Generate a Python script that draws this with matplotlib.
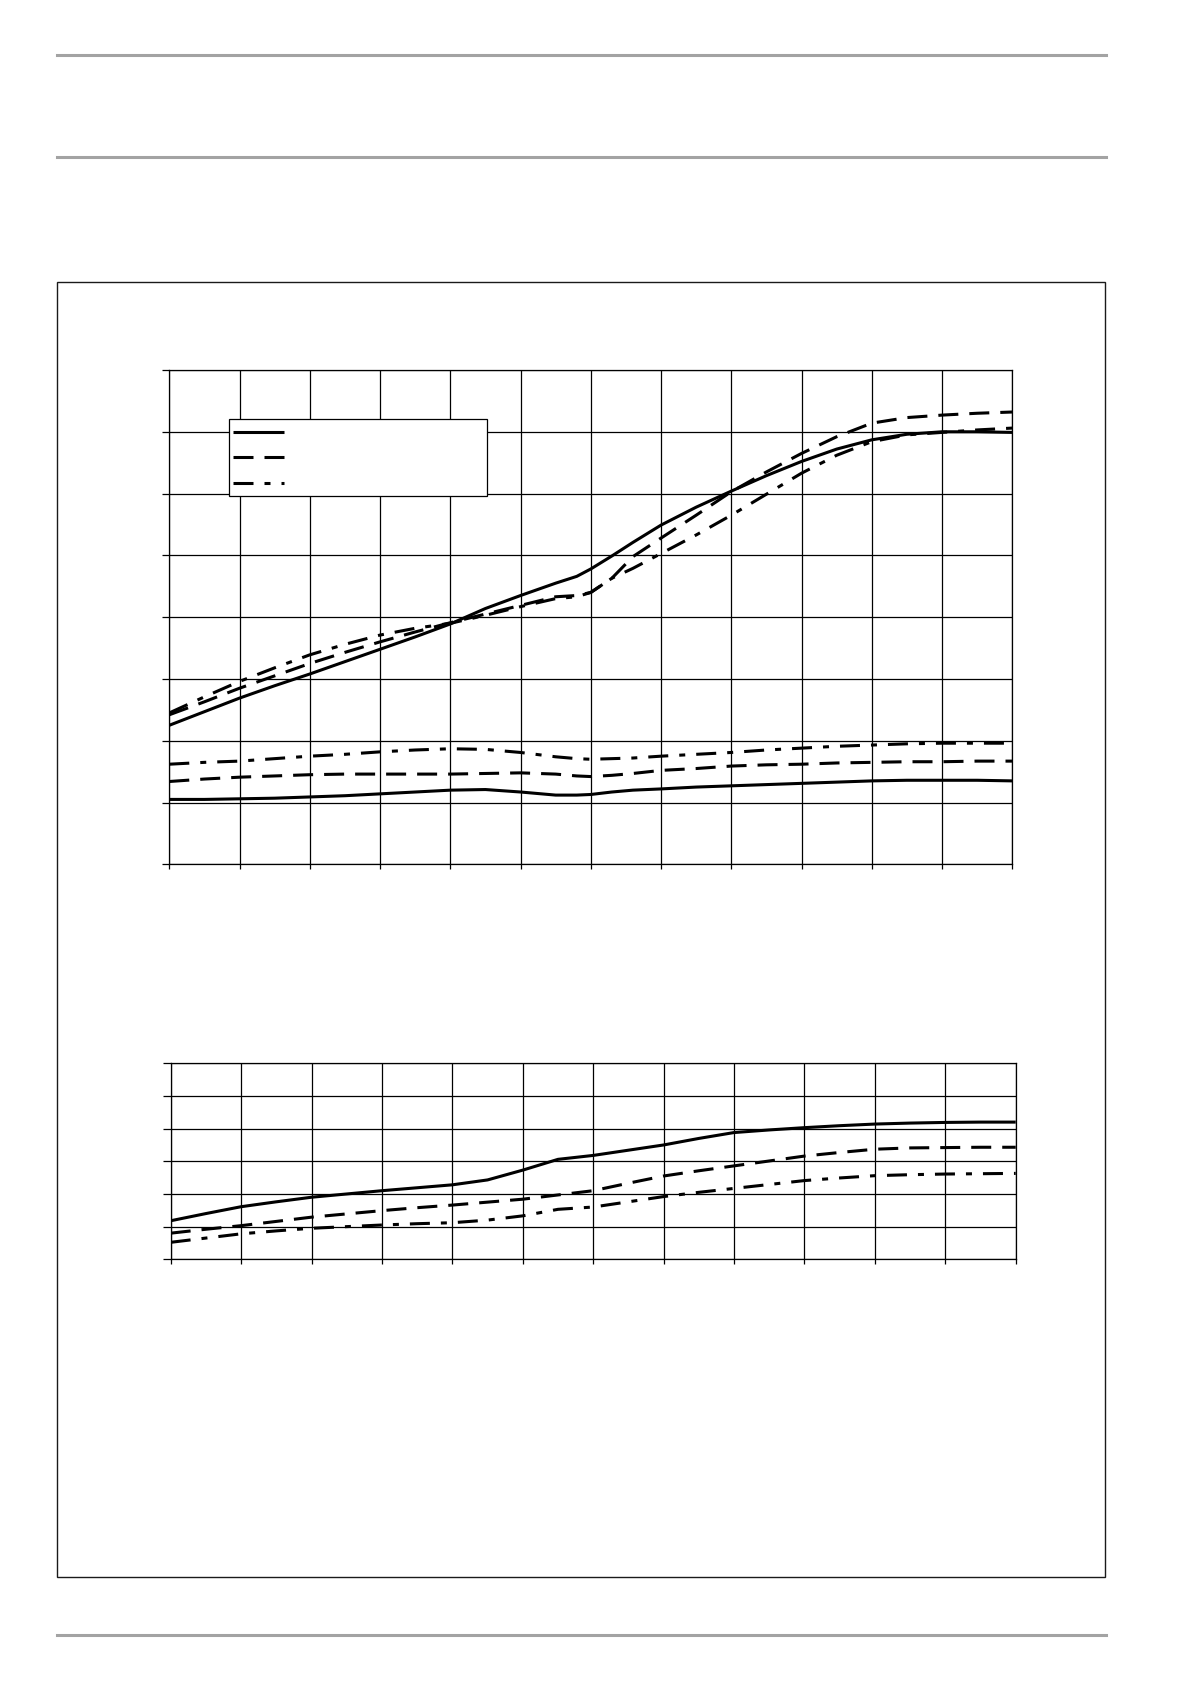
import matplotlib
matplotlib.use("Agg")
import matplotlib.pyplot as plt
from matplotlib.lines import Line2D
from matplotlib.patches import Rectangle

plt.rcParams['lines.scale_dashes'] = False

# ---------------- data (grid units, labels absent in source) ----------------
top_x = [0, 0.5, 1, 1.5, 2, 2.5, 3, 3.5, 4, 4.5, 5, 5.5, 5.8, 6, 6.3, 6.6,
         7, 7.5, 8, 8.5, 9, 9.5, 10, 10.5, 11, 11.5, 12]
top_solid_upper = [2.25, 2.47, 2.69, 2.89, 3.08, 3.28, 3.48, 3.68, 3.89, 4.14,
                   4.35, 4.55, 4.66, 4.78, 4.99, 5.21, 5.49, 5.78, 6.04, 6.29,
                   6.52, 6.72, 6.87, 6.96, 7.00, 7.00, 6.99]
top_dashed_upper = [2.42, 2.63, 2.85, 3.05, 3.25, 3.43, 3.60, 3.76, 3.91, 4.05,
                    4.19, 4.33, 4.35, 4.40, 4.63, 4.98, 5.28, 5.65, 6.03, 6.35,
                    6.65, 6.92, 7.14, 7.23, 7.27, 7.30, 7.32]
top_dashdot_upper = [2.45, 2.71, 2.96, 3.18, 3.39, 3.56, 3.71, 3.82, 3.90, 4.03,
                     4.17, 4.30, 4.33, 4.40, 4.63, 4.79, 5.03, 5.33, 5.65, 5.99,
                     6.33, 6.62, 6.84, 6.95, 6.99, 7.03, 7.06]
top_dashdot_lower = [1.62, 1.65, 1.67, 1.71, 1.75, 1.78, 1.82, 1.85, 1.87, 1.86,
                     1.81, 1.74, 1.71, 1.70, 1.71, 1.72, 1.75, 1.78, 1.81, 1.85,
                     1.88, 1.91, 1.93, 1.95, 1.96, 1.96, 1.96]
top_dashed_lower = [1.34, 1.38, 1.41, 1.43, 1.45, 1.46, 1.46, 1.46, 1.46, 1.47,
                    1.48, 1.46, 1.43, 1.42, 1.44, 1.47, 1.52, 1.55, 1.59, 1.61,
                    1.62, 1.64, 1.65, 1.66, 1.66, 1.67, 1.67]
top_solid_lower = [1.05, 1.05, 1.06, 1.07, 1.09, 1.11, 1.14, 1.17, 1.20, 1.21,
                   1.17, 1.12, 1.12, 1.13, 1.17, 1.20, 1.22, 1.25, 1.27, 1.29,
                   1.31, 1.33, 1.35, 1.36, 1.36, 1.36, 1.35]

bot_x = [0, 0.5, 1, 1.5, 2, 2.5, 3, 3.5, 4, 4.5, 5, 5.5, 6, 6.5, 7, 7.5, 8,
         8.5, 9, 9.5, 10, 10.5, 11, 11.5, 12]
bot_solid = [1.18, 1.40, 1.61, 1.76, 1.90, 2.00, 2.10, 2.19, 2.28, 2.43, 2.73,
             3.06, 3.18, 3.34, 3.50, 3.70, 3.88, 3.96, 4.03, 4.09, 4.14, 4.17,
             4.19, 4.20, 4.20]
bot_dashed = [0.80, 0.92, 1.03, 1.16, 1.29, 1.39, 1.49, 1.58, 1.66, 1.75, 1.84,
              1.97, 2.10, 2.33, 2.55, 2.71, 2.86, 3.01, 3.16, 3.27, 3.37, 3.41,
              3.42, 3.43, 3.43]
bot_dashdot = [0.52, 0.65, 0.78, 0.87, 0.95, 1.00, 1.05, 1.09, 1.12, 1.20, 1.33,
               1.53, 1.60, 1.76, 1.92, 2.05, 2.17, 2.29, 2.41, 2.49, 2.56, 2.59,
               2.61, 2.62, 2.63]

top_xticks = list(range(13))
top_yticks = list(range(9))
bot_xticks = list(range(13))
bot_yticks = list(range(7))

# ---------------- styles ----------------
PX = 72 / 100.0
LW = 2.2
SOLID = '-'
DASHED = (0, (20 * PX, 11 * PX))
DASHDOT = (0, (20 * PX, 11 * PX, 6 * PX, 11 * PX))

fig = plt.figure(figsize=(11.91, 16.84), dpi=100)
W, H = 1191.0, 1684.0

PAGE_L, PAGE_R = 57.5, 1106.0
gray = '#a3a3a3'
for yp in (55.3, 157.3, 1634.8):
    fig.add_artist(Line2D([PAGE_L / W, PAGE_R / W], [1 - yp / H, 1 - yp / H],
                          color=gray, lw=2.2, transform=fig.transFigure))
fig.add_artist(Rectangle((PAGE_L / W, 1 - 1576.5 / H), (PAGE_R - 0.7 - PAGE_L) / W,
                         (1576.5 - 281.5) / H, fill=False, edgecolor='#1a1a1a',
                         lw=1.0, transform=fig.transFigure))


def style_axes(ax, xt, yt, ylen, xlen):
    ax.set_xlim(xt[0], xt[-1])
    ax.set_ylim(yt[0], yt[-1])
    ax.set_xticks(xt)
    ax.set_yticks(yt)
    ax.grid(True, color='black', lw=0.9)
    ax.set_axisbelow(True)
    ax.tick_params(labelleft=False, labelbottom=False, direction='out',
                   width=0.9, color='black')
    ax.tick_params(axis='y', length=ylen)
    ax.tick_params(axis='x', length=xlen)
    for s in ax.spines.values():
        s.set_linewidth(0.9)
        s.set_color('black')


# ---------------- top chart ----------------
ax1 = fig.add_axes([169.3 / W, 1 - 864.3 / H, (1012.3 - 169.3) / W,
                    (864.3 - 370) / H])
style_axes(ax1, top_xticks, top_yticks, 4.8, 3.6)
for ys, ls in ((top_solid_upper, SOLID), (top_dashed_upper, DASHED),
               (top_dashdot_upper, DASHDOT), (top_dashdot_lower, DASHDOT),
               (top_dashed_lower, DASHED), (top_solid_lower, SOLID)):
    ax1.plot(top_x, ys, color='black', lw=LW, linestyle=ls,
             solid_capstyle='butt', dash_capstyle='butt')

# legend box (labels absent in source)
axw, axh = 1012.3 - 169.3, 864.3 - 370
lx0 = (229.3 - 169.3) / axw
lx1 = (487.3 - 169.3) / axw
ly0 = (864.3 - 496) / axh
ly1 = (864.3 - 419.3) / axh
ax1.add_patch(Rectangle((lx0, ly0), lx1 - lx0, ly1 - ly0, transform=ax1.transAxes,
                        facecolor='white', edgecolor='black', lw=0.9, zorder=5))
hx0 = (233.3 - 169.3) / axw
hx1 = (284 - 169.3) / axw
for yp, ls in ((431.7, SOLID), (457.3, DASHED), (483.3, DASHDOT)):
    yy = (864.3 - yp) / axh
    ax1.add_line(Line2D([hx0, hx1], [yy, yy], transform=ax1.transAxes,
                        color='black', lw=LW, linestyle=ls, zorder=6,
                        solid_capstyle='butt', dash_capstyle='butt'))

# ---------------- bottom chart ----------------
ax2 = fig.add_axes([170.7 / W, 1 - 1259.3 / H, (1015.7 - 170.7) / W,
                    (1259.3 - 1063.3) / H])
style_axes(ax2, bot_xticks, bot_yticks, 5.8, 3.4)
for ys, ls in ((bot_solid, SOLID), (bot_dashed, DASHED), (bot_dashdot, DASHDOT)):
    ax2.plot(bot_x, ys, color='black', lw=LW, linestyle=ls,
             solid_capstyle='butt', dash_capstyle='butt')

fig.savefig('out.png', dpi=100)
